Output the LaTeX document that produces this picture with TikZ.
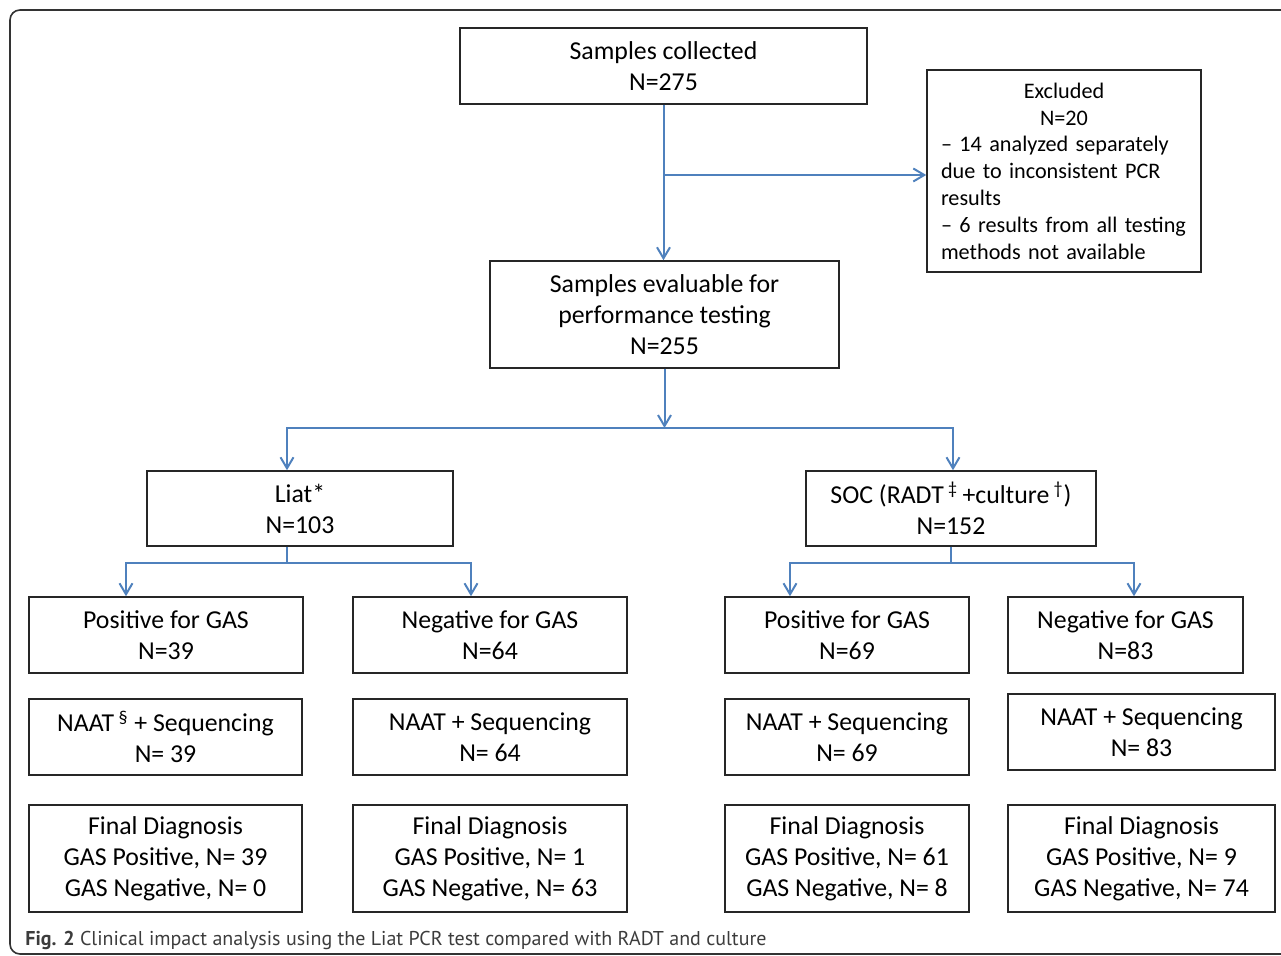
\documentclass[tikz,border=0pt]{standalone}
\usepackage{fontspec}
\setmainfont{Carlito}
\newfontfamily\capfont{PT Sans}
\usetikzlibrary{arrows.meta}
\definecolor{conblue}{RGB}{79,129,189}
\definecolor{capgray}{RGB}{60,60,60}
\begin{document}
\begin{tikzpicture}[x=0.5pt,y=-0.5pt,
  box/.style={draw=black!85, line width=0.75pt, align=center, inner sep=0pt,
    font=\fontsize{12.9pt}{15.5pt}\selectfont},
  conn/.style={draw=conblue, line width=1pt},
  arr/.style={conn, -{Straight Barb[length=5.5pt,width=6.5pt,line width=1pt]}}]
\useasboundingbox (0,0) rectangle (1281,956);
\clip (0,0) rectangle (1281,956);
\draw[black!80, line width=0.8pt, rounded corners=5pt] (10,10) rectangle (1320,954);

% top
\node[box, minimum width=203.5pt, minimum height=38pt] (coll) at (663.5,66) {Samples collected\\N=275};
\node[box, minimum width=137pt, minimum height=101pt, text width=123pt, inner xsep=7pt, align=left,
  font=\fontsize{11.1pt}{13.4pt}\selectfont] (excl) at (1064,171)
  {\makebox[123pt]{Excluded}\\\makebox[123pt]{N=20}\\– 14 analyzed separately\\due to inconsistent PCR\\results\\– 6 results from all testing\\methods not available};
\node[box, minimum width=174.5pt, minimum height=53.5pt] (eval) at (664.5,314.5) {Samples evaluable for\\performance testing\\N=255};

% second level
\node[box, minimum width=153pt, minimum height=37.5pt] (liat) at (300,508.5) {Liat*\\N=103};
\node[box, minimum width=145pt, minimum height=37.5pt] (soc) at (951,508.5)
  {SOC (RADT\,\textsuperscript{‡}\,+culture\,\textsuperscript{†})\\N=152};

% row 1
\node[box, minimum width=137pt, minimum height=38pt] (lpos) at (166,635) {Positive for GAS\\N=39};
\node[box, minimum width=137pt, minimum height=38pt] (lneg) at (490,635) {Negative for GAS\\N=64};
\node[box, minimum width=122pt, minimum height=38pt] (spos) at (847,635) {Positive for GAS\\N=69};
\node[box, minimum width=117.5pt, minimum height=38pt] (sneg) at (1125.5,635) {Negative for GAS\\N=83};

% row 2
\node[box, minimum width=136.5pt, minimum height=38pt] (lpn) at (165.5,737) {NAAT\,\textsuperscript{§} + Sequencing\\N= 39};
\node[box, minimum width=137pt, minimum height=38pt] (lnn) at (490,737) {NAAT + Sequencing\\N= 64};
\node[box, minimum width=122pt, minimum height=38pt] (spn) at (847,737) {NAAT + Sequencing\\N= 69};
\node[box, minimum width=133.5pt, minimum height=38pt] (snn) at (1141.5,732) {NAAT + Sequencing\\N= 83};

% row 3
\node[box, minimum width=136.5pt, minimum height=53.5pt] (lpf) at (165.5,858.5) {Final Diagnosis\\GAS Positive, N= 39\\GAS Negative, N= 0};
\node[box, minimum width=137pt, minimum height=53.5pt] (lnf) at (490,858.5) {Final Diagnosis\\GAS Positive, N= 1\\GAS Negative, N= 63};
\node[box, minimum width=122pt, minimum height=53.5pt] (spf) at (847,858.5) {Final Diagnosis\\GAS Positive, N= 61\\GAS Negative, N= 8};
\node[box, minimum width=133.5pt, minimum height=53.5pt] (snf) at (1141.5,858.5) {Final Diagnosis\\GAS Positive, N= 9\\GAS Negative, N= 74};

% connectors
\coordinate (j1) at (663.5,175);
\draw[arr] (coll.south) -- (coll.south |- eval.north);
\draw[arr] (j1) -- (j1 -| excl.west);

\coordinate (jm) at (664.5,428);
\coordinate (jL) at (287,428);
\coordinate (jR) at (953,428);
\draw[arr] (eval.south) -- (jm);
\draw[arr] (jm) -- (jL) -- (jL |- liat.north);
\draw[arr] (jm) -- (jR) -- (jR |- soc.north);

\coordinate (lt) at (287,563);
\coordinate (lL) at (126,563);
\coordinate (lR) at (471,563);
\draw[conn] (lt |- liat.south) -- (lt);
\draw[arr] (lt) -- (lL) -- (lL |- lpos.north);
\draw[arr] (lt) -- (lR) -- (lR |- lneg.north);

\coordinate (st) at (951,563);
\coordinate (sL) at (790,563);
\coordinate (sR) at (1134,563);
\draw[conn] (soc.south) -- (st);
\draw[arr] (st) -- (sL) -- (sL |- spos.north);
\draw[arr] (st) -- (sR) -- (sR |- sneg.north);

% caption
\node[anchor=base west, inner sep=0pt, text=capgray, font=\capfont\fontsize{10pt}{12pt}\selectfont] (cap) at (25,945)
  {\textbf{Fig. 2} Clinical impact analysis using the Liat PCR test compared with RADT and culture};
\end{tikzpicture}
\end{document}
